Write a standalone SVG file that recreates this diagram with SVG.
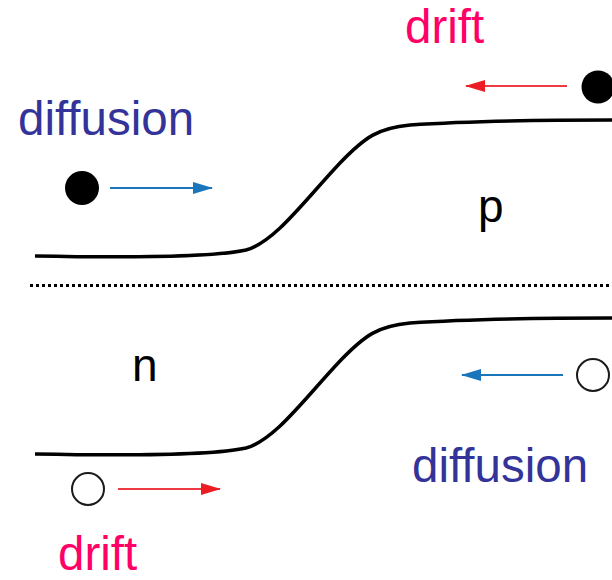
<svg xmlns="http://www.w3.org/2000/svg" width="612" height="580" viewBox="0 0 612 580">
<defs>
<style>
.band{fill:none;stroke:#000;stroke-width:3.5}
.lbl{font-family:"Liberation Sans",Arial,sans-serif;font-size:47.5px}
.blue{fill:#333399}
.pink{fill:#ff0066}
.reg{font-family:"Liberation Sans",Arial,sans-serif;font-size:46px;fill:#000}
.ab{stroke:#1b75bb;stroke-width:2;fill:none}
.ar{stroke:#ee3a43;stroke-width:2;fill:none}
</style>
<marker id="hb" viewBox="0 0 20 12" refX="19" refY="6" markerWidth="20" markerHeight="12" markerUnits="userSpaceOnUse" orient="auto"><path d="M0,0 L20,6 L0,12 Z" fill="#1b75bb"/></marker>
<marker id="hr" viewBox="0 0 20 12" refX="19" refY="6" markerWidth="20" markerHeight="12" markerUnits="userSpaceOnUse" orient="auto"><path d="M0,0 L20,6 L0,12 Z" fill="#ed1c24"/></marker>
</defs>
<rect width="612" height="580" fill="#fff"/>
<g id="bands">
<path class="band" d="M35,256 C140,258 215,257 246,250 C275,242 305,200 340,163 C365,137 378,128 410,125 C470,121 560,120 612,120"/>
<path class="band" d="M35,454 C140,456 215,455 246,448 C275,440 305,398 340,361 C365,335 378,326 410,323 C470,319 560,318 612,318"/>
<line x1="30" y1="285.5" x2="612" y2="285.5" stroke="#000" stroke-width="3" stroke-dasharray="3,3"/>
</g>
<g id="region-p"><text class="reg" x="478" y="222">p</text></g>
<g id="region-n"><text class="reg" x="132" y="381">n</text></g>
<g id="electron-diffusion">
<circle cx="82" cy="188" r="17" fill="#000"/>
<text class="lbl blue" x="18" y="135">diffusion</text>
</g>
<g id="electron-drift">
<circle cx="598" cy="87" r="16.5" fill="#000"/>
<text class="lbl pink" x="405" y="43">drift</text>
</g>
<g id="hole-diffusion">
<circle cx="593" cy="375" r="16" fill="#fff" stroke="#1a1a1a" stroke-width="2"/>
<text class="lbl blue" x="412" y="482">diffusion</text>
</g>
<g id="hole-drift">
<circle cx="88" cy="489" r="16" fill="#fff" stroke="#1a1a1a" stroke-width="2"/>
<text class="lbl pink" x="58" y="570">drift</text>
</g>
<g id="connectors">
<line class="ab" x1="110" y1="188" x2="212" y2="188" marker-end="url(#hb)"/>
<line class="ar" x1="567" y1="86" x2="466" y2="86" marker-end="url(#hr)"/>
<line class="ab" x1="563" y1="375" x2="462" y2="375" marker-end="url(#hb)"/>
<line class="ar" x1="118" y1="489" x2="220" y2="489" marker-end="url(#hr)"/>
</g>
</svg>
